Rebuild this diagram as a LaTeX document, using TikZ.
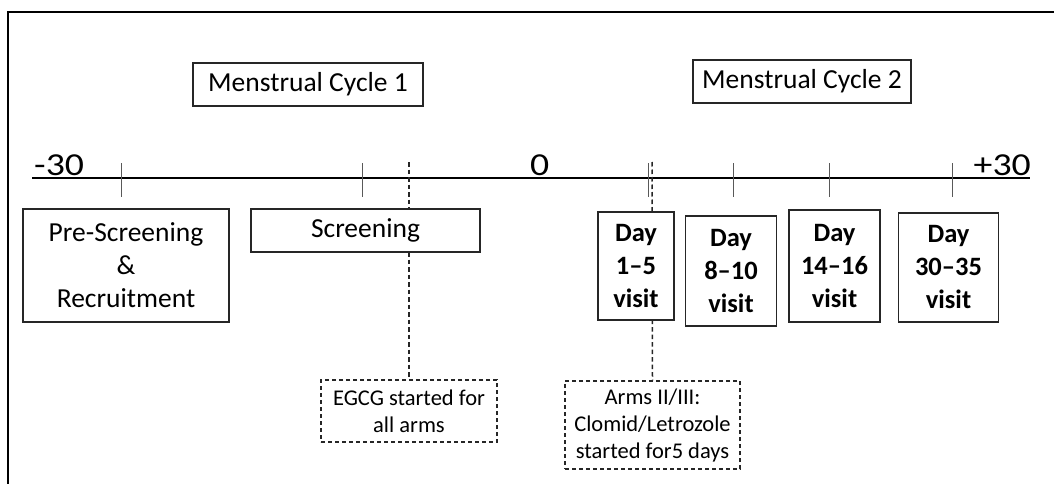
\documentclass[tikz,border=0pt]{standalone}
\usepackage{fontspec}
\usepackage{graphicx}
\setmainfont{Carlito}
\newcommand{\widelbl}[1]{\scalebox{1.18}[1]{#1}}
\begin{document}
\begin{tikzpicture}[x=1pt,y=-1pt,
  box/.style={draw=black!85,line width=1.7pt,fill=white,inner sep=0pt,align=center},
  dbox/.style={box,dash pattern=on 4pt off 3pt,line width=1.5pt},
  norm/.style={font=\fontsize{27.5}{33}\selectfont},
  boldtxt/.style={font=\fontsize{26.5}{33}\bfseries\selectfont},
  smalltxt/.style={font=\fontsize{22.5}{27}\selectfont},
  axislbl/.style={font=\fontsize{32}{32}\selectfont,inner sep=0pt},
  tickmark/.style={draw=black!65,line width=0.9pt},
  conn/.style={draw=black!85,line width=1.5pt,dash pattern=on 4.5pt off 3pt}]
\clip (0,0) rectangle (1054,484);
\fill[white] (0,0) rectangle (1054,484);
\draw[line width=2.2pt] (8,495) -- (8,12) -- (1065,12);
% timeline
\coordinate (a0) at (32,178);
\coordinate (a1) at (1030,178);
\draw[line width=1.3pt] (a0) -- (a1);
\foreach \x in {121,362,648,733,829,952}{\draw[tickmark] (\x,163) -- (\x,197);}
\node[axislbl,anchor=base west] (lm30) at (34,175) {\widelbl{-30}};
\node[axislbl,anchor=base west] (l0) at (530,175) {\widelbl{0}};
\node[axislbl,anchor=base east] (lp30) at (1031,175) {\widelbl{+30}};
% dashed markers
\coordinate (e0) at (409,162);
\coordinate (c0) at (652,162);
\node[dbox,smalltxt,minimum width=176pt,minimum height=62pt] (egcg) at (409,411) {EGCG started for\\all arms};
\node[dbox,smalltxt,minimum width=175pt,minimum height=88pt] (arms) at (652.5,425) {Arms II/III:\\Clomid/Letrozole\\started for5 days};
\draw[conn] (e0) -- (egcg.north);
\draw[conn] (c0) -- (arms.north);
% cycle labels
\node[box,norm,minimum width=230pt,minimum height=43pt] (mc1) at (308,84.5) {Menstrual Cycle 1};
\node[box,norm,minimum width=218pt,minimum height=43pt] (mc2) at (802,81.5) {Menstrual Cycle 2};
% phase boxes
\node[box,norm,minimum width=206pt,minimum height=113pt] (pre) at (126,265.5) {Pre-Screening\\\&\\Recruitment};
\node[box,norm,minimum width=229pt,minimum height=43pt] (scr) at (365.5,230.5) {Screening};
\node[box,boldtxt,minimum width=76pt,minimum height=108pt] (d1) at (636,266) {Day\\1--5\\visit};
\node[box,boldtxt,minimum width=91pt,minimum height=110pt] (d2) at (731,271) {Day\\8--10\\visit};
\node[box,boldtxt,minimum width=91pt,minimum height=112pt] (d3) at (834.5,266) {Day\\14--16\\visit};
\node[box,boldtxt,minimum width=100pt,minimum height=109pt] (d4) at (948.5,267.5) {Day\\30--35\\visit};
\end{tikzpicture}
\end{document}
